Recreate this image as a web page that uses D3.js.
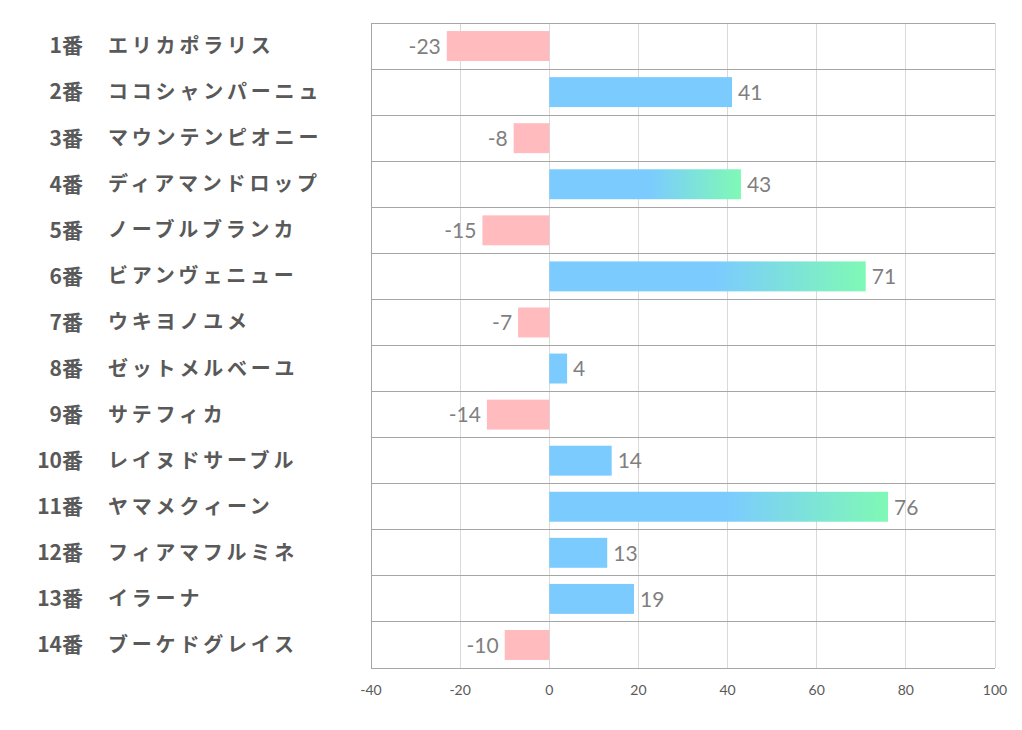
<!DOCTYPE html>
<html><head><meta charset="utf-8">
<script src="https://cdn.jsdelivr.net/npm/d3@7"></script>
<style>body{margin:0;background:#fff}</style>
</head><body><svg id="c" width="1022" height="730"></svg>
<script>
const numbers = ["1番","2番","3番","4番","5番","6番","7番","8番","9番","10番","11番","12番","13番","14番"];
const names = ["エリカポラリス","ココシャンパーニュ","マウンテンピオニー","ディアマンドロップ","ノーブルブランカ","ビアンヴェニュー","ウキヨノユメ","ゼットメルベーユ","サテフィカ","レイヌドサーブル","ヤマメクィーン","フィアマフルミネ","イラーナ","ブーケドグレイス"];
const values = [-23,41,-8,43,-15,71,-7,4,-14,14,76,13,19,-10];
const xTicks = [-40,-20,0,20,40,60,80,100];
const gradientFrom = 42;

const svg = d3.select("#c");
const L=371,R=995,T=23,B=668;
const x = d3.scaleLinear().domain([-40,100]).range([L,R]);
const y = d3.scaleBand().domain(d3.range(values.length)).range([T,B]).paddingInner(0.35).paddingOuter(0.175);
const rowStep = (B-T)/values.length;

const defs = svg.append("defs");
values.forEach((v,i)=>{
  if(v>=gradientFrom){
    const g=defs.append("linearGradient").attr("id","g"+i).attr("x1","0").attr("x2","1").attr("y1","0").attr("y2","0");
    g.append("stop").attr("offset","0.52").attr("stop-color","#7BCBFF");
    g.append("stop").attr("offset","1").attr("stop-color","#7FF9B5");
  }
});

// vertical grid
svg.append("g").selectAll("line").data(xTicks).join("line")
  .attr("x1",d=>x(d)).attr("x2",d=>x(d)).attr("y1",T).attr("y2",B)
  .attr("stroke","#D9D9D9").attr("stroke-width",1).attr("shape-rendering","crispEdges");
// horizontal grid
svg.append("g").selectAll("line").data(d3.range(values.length+1)).join("line")
  .attr("x1",L).attr("x2",R).attr("y1",d=>T+d*rowStep).attr("y2",d=>T+d*rowStep)
  .attr("stroke","#A6A6A6").attr("stroke-width",1).attr("shape-rendering","crispEdges");
svg.append("line").attr("x1",L).attr("x2",L).attr("y1",T).attr("y2",B).attr("stroke","#A6A6A6").attr("shape-rendering","crispEdges");

// bars
svg.append("g").selectAll("rect").data(values).join("rect")
  .attr("x",d=>x(Math.min(0,d))).attr("width",d=>Math.abs(x(d)-x(0)))
  .attr("y",(d,i)=>y(i)).attr("height",y.bandwidth())
  .attr("fill",(d,i)=>d<0?"#FFBBBE":(d>=gradientFrom?`url(#g${i})`:"#7BCBFF"));

// value labels
svg.append("g").selectAll("text").data(values).join("text")
  .attr("x",d=>d<0?x(d)-6:x(d)+6)
  .attr("y",(d,i)=>y(i)+y.bandwidth()/2)
  .attr("dy","0.37em")
  .attr("text-anchor",d=>d<0?"end":"start")
  .attr("fill","#7F7F7F").attr("font-family","Lato, 'Open Sans', sans-serif").attr("font-size",21)
  .text(d=>d);

// x axis ticks
svg.append("g").selectAll("text").data(xTicks).join("text")
  .attr("x",d=>x(d)).attr("y",695).attr("text-anchor","middle")
  .attr("fill","#595959").attr("font-family","Lato, 'Open Sans', sans-serif").attr("font-size",14)
  .text(d=>d);

// left labels
const lab = svg.append("g");
lab.selectAll("text.n").data(numbers).join("text").attr("class","n")
  .attr("x",83).attr("y",(d,i)=>T+(i+0.5)*rowStep).attr("dy","0.35em").attr("text-anchor","end")
  .attr("fill","#595959").attr("font-weight","bold").attr("font-size",21)
  .attr("font-family","'Noto Sans CJK JP', sans-serif").text(d=>d);
lab.selectAll("text.m").data(names).join("text").attr("class","m")
  .attr("x",108).attr("y",(d,i)=>T+(i+0.5)*rowStep).attr("dy","0.35em")
  .attr("fill","#595959").attr("font-weight","bold").attr("font-size",20).attr("letter-spacing","3.8px")
  .attr("font-family","'Noto Sans CJK JP', sans-serif").text(d=>d);
</script></body></html>
